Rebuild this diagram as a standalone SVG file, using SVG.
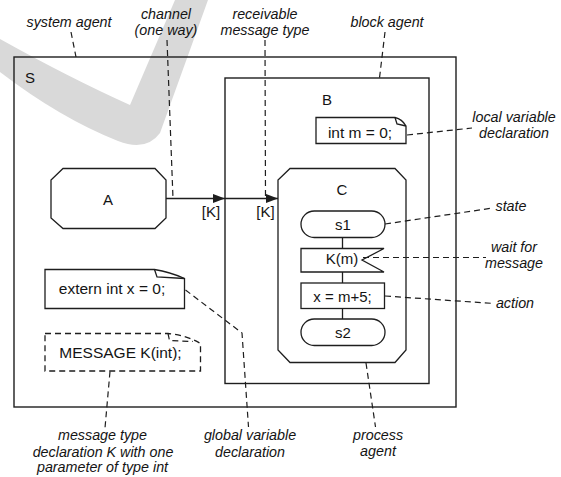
<svg xmlns="http://www.w3.org/2000/svg" width="561" height="477" viewBox="0 0 561 477">
  <style>
    .box { fill: none; stroke: #1e1e1e; stroke-width: 1.4; }
    .shape { fill: #ffffff; stroke: #1e1e1e; stroke-width: 1.3; }
    .dashbox { fill: #ffffff; stroke: #1e1e1e; stroke-width: 1.3; stroke-dasharray: 6 4; }
    .lead { fill: none; stroke: #1e1e1e; stroke-width: 1.2; stroke-dasharray: 6 4; }
    .flow { fill: none; stroke: #1e1e1e; stroke-width: 1.3; }
    .t { font-family: "Liberation Sans", Arial, Helvetica, sans-serif; font-size: 15px; fill: #141414; text-anchor: middle; }
    .code { font-family: "Liberation Sans", Arial, Helvetica, sans-serif; font-size: 15.5px; fill: #141414; text-anchor: middle; }
    .note { font-family: "Liberation Sans", Arial, Helvetica, sans-serif; font-size: 14.3px; font-style: italic; fill: #141414; text-anchor: middle; }
  </style>
  <defs>
    <marker id="tip" markerWidth="12" markerHeight="9" refX="12" refY="4.5" orient="auto" markerUnits="userSpaceOnUse">
      <path d="M0,0 L12,4.5 L0,9 Z" fill="#1e1e1e"/>
    </marker>
  </defs>

  <rect x="0" y="0" width="561" height="477" fill="#ffffff"/>

  <!-- light grey check mark in the background -->
  <path d="M0,39 Q70,78 130,105 L175,0 L208,0 L160,133 Q146,152 118,141 Q60,118 0,72 Z" fill="#d9d9d9"/>

  <!-- system agent S -->
  <g id="system-S">
    <rect class="box" x="14" y="57" width="442" height="350"/>
    <text class="t" x="30" y="83">S</text>
  </g>

  <!-- block agent B -->
  <g id="block-B">
    <rect class="box" x="225" y="78" width="204" height="305.5"/>
    <text class="t" x="327" y="105">B</text>
  </g>

  <!-- local variable in B -->
  <g id="local-var">
    <path class="shape" d="M316,117.5 H395 Q402,119 406,126 V143.5 H316 Z"/>
    <path class="flow" d="M395,117.5 L397,124 L406,126"/>
    <text class="code" x="360" y="137.5">int m = 0;</text>
  </g>

  <!-- process A -->
  <g id="process-A">
    <path class="shape" d="M63,168.5 H155 L166,180 V218 L155,228.5 H63 L51,218 V180 Z"/>
    <text class="t" x="108" y="204.5">A</text>
  </g>

  <!-- process agent C -->
  <g id="process-C">
    <path class="shape" d="M290,168.5 H395 L406,180 V350 L395,362.5 H290 L278,350 V180 Z"/>
    <text class="t" x="342" y="195">C</text>
  </g>

  <!-- transitions inside C -->
  <g id="flow-lines">
    <line class="flow" x1="342.5" y1="237.5" x2="342.5" y2="248.5"/>
    <line class="flow" x1="342.5" y1="272" x2="342.5" y2="283"/>
    <line class="flow" x1="342.5" y1="308.5" x2="342.5" y2="319"/>
  </g>

  <g id="state-s1">
    <rect class="shape" x="301" y="211" width="84" height="26.5" rx="13.25"/>
    <text class="t" x="343" y="230">s1</text>
  </g>

  <g id="input-K">
    <path class="shape" d="M301,248.5 H384 L362,260 L384,272 H301 Z"/>
    <text class="t" x="342" y="264">K(m)</text>
  </g>

  <g id="task-assign">
    <rect class="shape" x="301" y="283" width="83.5" height="25.5"/>
    <text class="t" x="342.5" y="301.5">x = m+5;</text>
  </g>

  <g id="state-s2">
    <rect class="shape" x="301" y="319" width="84" height="26.5" rx="13.25"/>
    <text class="t" x="343" y="337.5">s2</text>
  </g>

  <!-- global variable in S -->
  <g id="global-var">
    <path class="shape" d="M45,269.5 H154.5 Q170,272 184.5,278.5 V308.5 H45 Z"/>
    <path class="flow" d="M154.5,269.5 L157,277 L184.5,278.5"/>
    <text class="code" x="112" y="294">extern int x = 0;</text>
  </g>

  <!-- message type declaration -->
  <g id="message-decl">
    <path class="dashbox" d="M45,333.5 H168 Q186,335 200.5,343.5 V371 H45 Z"/>
    <path class="lead" d="M168,333.5 L169.5,340.5 L193,341.5"/>
    <text class="code" x="120.5" y="357.5">MESSAGE K(int);</text>
  </g>

  <!-- channel and signal routes -->
  <g id="connectors">
    <line class="flow" x1="166" y1="198.5" x2="225" y2="198.5" marker-end="url(#tip)"/>
    <line class="flow" x1="225" y1="198.5" x2="278" y2="198.5" marker-end="url(#tip)"/>
    <text class="t" x="211" y="217" font-size="14.5">[K]</text>
    <text class="t" x="265.5" y="217" font-size="14.5">[K]</text>
  </g>

  <!-- annotation leaders -->
  <g id="leaders">
    <line class="lead" x1="71" y1="32" x2="76" y2="57"/>
    <line class="lead" x1="167" y1="40" x2="173" y2="198.5"/>
    <line class="lead" x1="265" y1="40" x2="265.5" y2="198.5"/>
    <line class="lead" x1="385" y1="32" x2="379.5" y2="78"/>
    <line class="lead" x1="407" y1="135" x2="472" y2="128"/>
    <line class="lead" x1="385" y1="224" x2="493" y2="208"/>
    <line class="lead" x1="363" y1="257.5" x2="486" y2="257.5"/>
    <line class="lead" x1="385" y1="296" x2="494" y2="303.5"/>
    <line class="lead" x1="366" y1="363" x2="375.5" y2="427"/>
    <path class="lead" d="M185.5,290 L242,333 L248.5,427"/>
    <line class="lead" x1="110" y1="371.5" x2="105" y2="428"/>
  </g>

  <!-- annotation labels -->
  <g id="labels">
    <text class="note" x="69" y="27">system agent</text>
    <text class="note" x="166" y="19">channel</text>
    <text class="note" x="166" y="35">(one way)</text>
    <text class="note" x="265" y="19">receivable</text>
    <text class="note" x="265" y="35">message type</text>
    <text class="note" x="387" y="27">block agent</text>
    <text class="note" x="514" y="121.5">local variable</text>
    <text class="note" x="514" y="138">declaration</text>
    <text class="note" x="511" y="211">state</text>
    <text class="note" x="514" y="251.5">wait for</text>
    <text class="note" x="514" y="267.5">message</text>
    <text class="note" x="515" y="308">action</text>
    <text class="note" x="102.5" y="440">message type</text>
    <text class="note" x="103" y="456.5">declaration K with one</text>
    <text class="note" x="102.5" y="472">parameter of type int</text>
    <text class="note" x="250" y="440">global variable</text>
    <text class="note" x="250" y="456.5">declaration</text>
    <text class="note" x="378" y="439.5">process</text>
    <text class="note" x="378" y="456">agent</text>
  </g>
</svg>
